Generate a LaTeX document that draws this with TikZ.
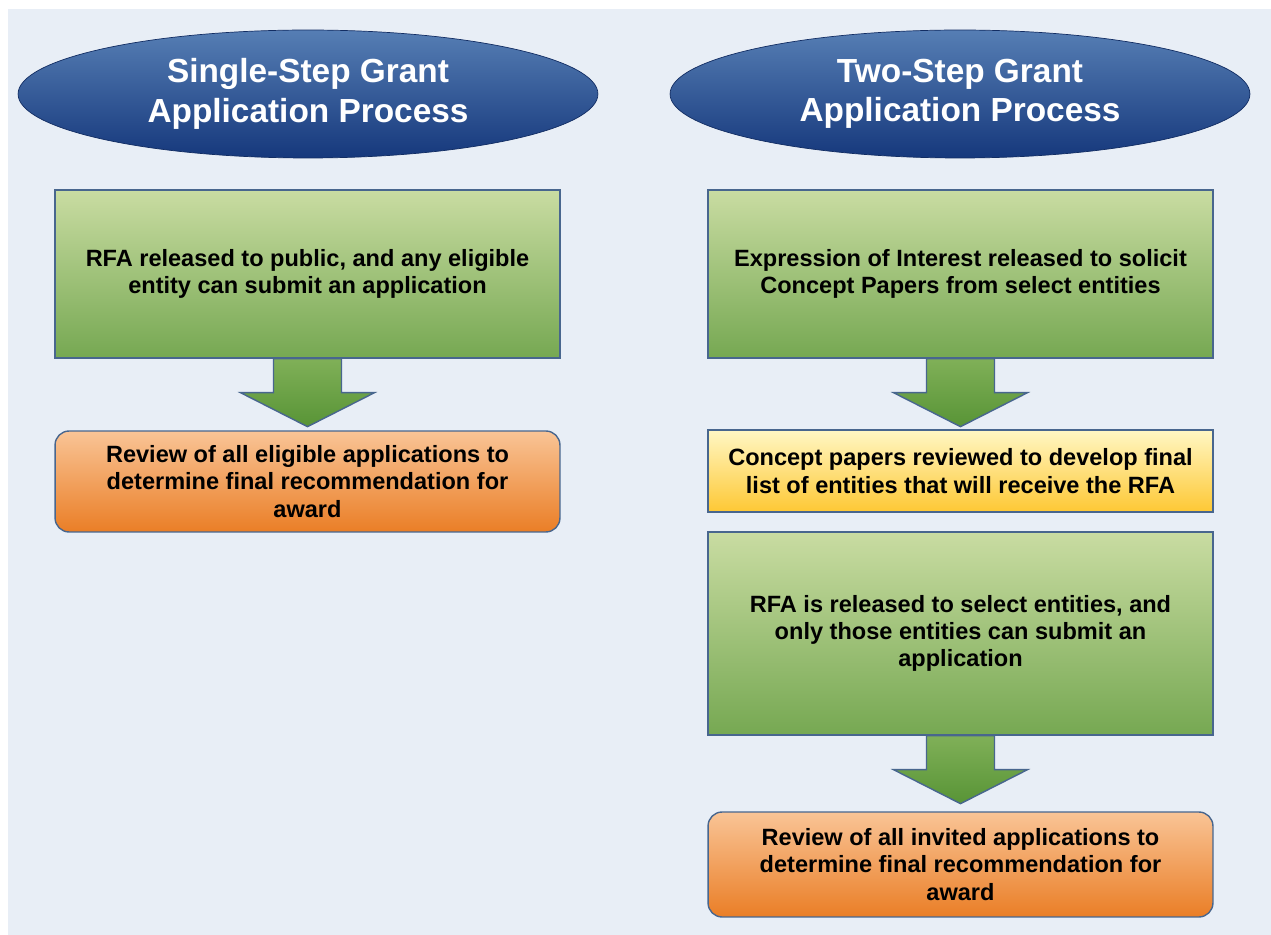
\documentclass[tikz,border=0pt]{standalone}
\usepackage{fontspec}
\setmainfont{Liberation Sans}
\usetikzlibrary{shapes.geometric}

\definecolor{panelbg}{RGB}{232,238,246}
\definecolor{edgeblue}{RGB}{72,102,142}
\definecolor{navytop}{RGB}{86,126,180}
\definecolor{navybot}{RGB}{22,56,124}
\definecolor{greentop}{RGB}{201,220,162}
\definecolor{greenbot}{RGB}{118,168,82}
\definecolor{arrowtop}{RGB}{128,176,88}
\definecolor{arrowbot}{RGB}{88,148,54}
\definecolor{orangetop}{RGB}{249,196,150}
\definecolor{orangebot}{RGB}{234,126,38}
\definecolor{yellowtop}{RGB}{255,247,196}
\definecolor{yellowbot}{RGB}{254,200,52}

% block arrow hanging below a box
\newcommand{\flowarrow}[1]{%
  \draw[arrowbox] ([xshift=-0.68cm]#1.south) -- ++(0,-0.68cm) -- ++(-0.66cm,0)
    -- ++(1.34cm,-0.68cm) -- ++(1.34cm,0.68cm) -- ++(-0.66cm,0) -- ++(0,0.68cm) -- cycle;}

\begin{document}
\begin{tikzpicture}[x=0.02cm, y=-0.02cm]

  % Styles
  \tikzset{
    title/.style={ellipse, minimum width=11.6cm, minimum height=2.56cm,
      top color=navytop, bottom color=navybot, draw=navybot!80!black, thin,
      text=white, align=center, font=\fontsize{19}{22.5}\selectfont\bfseries},
    stepbox/.style={rectangle, minimum width=10.1cm, draw=edgeblue, thick,
      align=center, font=\fontsize{13.4}{15.6}\selectfont\bfseries, inner sep=2pt},
    greenbox/.style={stepbox, top color=greentop, bottom color=greenbot},
    yellowbox/.style={stepbox, top color=yellowtop, bottom color=yellowbot},
    awardbox/.style={stepbox, rounded corners=8pt, top color=orangetop, bottom color=orangebot},
    arrowbox/.style={top color=arrowtop, bottom color=arrowbot, draw=edgeblue, thick, line join=miter}
  }

  % Background panel
  \fill[white] (0,0) rectangle (1271,935);
  \fill[panelbg] (8,9) rectangle (1271,935);

  % --- Single-step process ---
  \node[title] (single) at (308,94) {Single-Step Grant\\Application Process};
  \node[greenbox, minimum height=3.36cm] (release1) at (307.5,274)
    {RFA released to public, and any eligible\\entity can submit an application};
  \node[awardbox, minimum height=2.02cm] (review1) at (307.5,481.5)
    {Review of all eligible applications to\\determine final recommendation for\\award};
  \flowarrow{release1}

  % --- Two-step process ---
  \node[title] (twostep) at (960,94) {Two-Step Grant\\Application Process};
  \node[greenbox, minimum height=3.36cm] (interest) at (960.5,274)
    {Expression of Interest released to solicit\\Concept Papers from select entities};
  \node[yellowbox, minimum height=1.64cm] (concept) at (960.5,471)
    {Concept papers reviewed to develop final\\list of entities that will receive the RFA};
  \node[greenbox, minimum height=4.06cm] (release2) at (960.5,633.5)
    {RFA is released to select entities, and\\only those entities can submit an\\application};
  \node[awardbox, minimum height=2.1cm] (review2) at (960.5,864.5)
    {Review of all invited applications to\\determine final recommendation for\\award};
  \flowarrow{interest}
  \flowarrow{release2}

\end{tikzpicture}
\end{document}
